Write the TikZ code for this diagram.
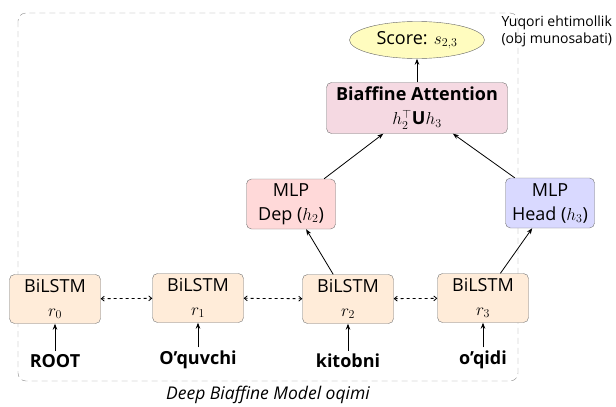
\documentclass[tikz,border=0pt]{standalone}
\usepackage{fontspec}
\setmainfont{Open Sans}
\usetikzlibrary{arrows.meta,shapes.geometric}
\begin{document}
\begin{tikzpicture}[x=1pt,y=-1pt,
	font=\fontsize{18}{24}\selectfont,
	box/.style={draw=black!55,rounded corners=5pt,align=center,inner sep=2pt},
	lstm/.style={box,fill=orange!15,minimum width=91pt,minimum height=49pt},
	mlp/.style={box,minimum width=89pt,minimum height=50pt},
	word/.style={font=\fontsize{18}{22}\selectfont\bfseries},
	arr/.style={-{Stealth[length=6pt,width=4.5pt]},line width=0.8pt},
	darr/.style={{Straight Barb[length=3pt,width=5pt]}-{Straight Barb[length=3pt,width=5pt]},dashed,line width=0.8pt}]
	\useasboundingbox (0,0) rectangle (616,407);
	\draw[black!45,dash pattern=on 6pt off 4pt,rounded corners=8pt] (18,13) rectangle (518,381);
	\node[font=\fontsize{17.5}{20}\selectfont\itshape] (cap) at (268,395) {Deep Biaffine Model oqimi};
	% encoder
	\node[lstm] (r0) at (55,299) {BiLSTM\\$r_0$};
	\node[lstm] (r1) at (198,298) {BiLSTM\\$r_1$};
	\node[lstm] (r2) at (348,299) {BiLSTM\\$r_2$};
	\node[lstm] (r3) at (483,298) {BiLSTM\\$r_3$};
	\node[word] (w0) at (55,361) {ROOT};
	\node[word] (w1) at (198,360) {O’quvchi};
	\node[word] (w2) at (348,361) {kitobni};
	\node[word] (w3) at (483,360) {o’qidi};
	% scorer
	\node[mlp,fill=red!15] (dep) at (291,204) {MLP\\Dep ($h_2$)};
	\node[mlp,fill=blue!15] (head) at (550,203) {MLP\\Head ($h_3$)};
	\node[box,fill=purple!15,minimum width=181pt,minimum height=51pt] (att) at (417,108) {\textbf{Biaffine Attention}\\$h_2^\top\textbf{U}h_3$};
	\node[ellipse,draw=black!60,fill=yellow!25,minimum width=135pt,minimum height=37pt,inner sep=1pt] (score) at (417,40) {Score: $s_{2,3}$};
	\node[anchor=west,align=left,font=\fontsize{14}{17}\selectfont] (note) at (498,31) {Yuqori ehtimollik\\(obj munosabati)};
	\draw[arr] (w0) -- (r0);
	\draw[arr] (w1) -- (r1);
	\draw[arr] (w2) -- (r2);
	\draw[arr] (w3) -- (r3);
	\draw[darr] (r0) -- (r1);
	\draw[darr] (r1) -- (r2);
	\draw[darr] (r2) -- (r3);
	\draw[arr] (r2) -- (dep);
	\draw[arr] (r3) -- (head);
	\draw[arr] (dep) -- (att);
	\draw[arr] (head) -- (att);
	\draw[arr] (att) -- (score);
\end{tikzpicture}
\end{document}
